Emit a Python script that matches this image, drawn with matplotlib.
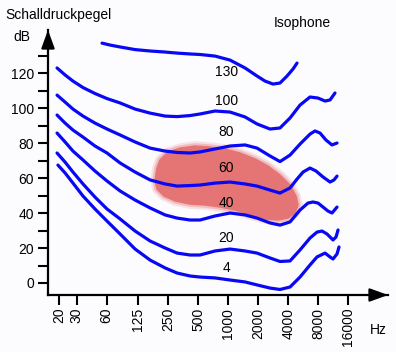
import matplotlib
matplotlib.use('Agg')
from matplotlib import pyplot as plt
from matplotlib.patches import Polygon

plt.rcParams['font.family'] = ['Liberation Sans', 'DejaVu Sans']

# frequency ticks (Hz)
freq_ticks = [20, 30, 60, 125, 250, 500, 1000, 2000, 4000, 8000, 16000]
db_ticks = list(range(0, 140, 10))
db_labels = [str(v) if v % 20 == 0 and v <= 120 else '' for v in db_ticks]

# isophones: frequency (Hz) / sound pressure level (dB)
f_130 = [54, 65, 82, 116, 164, 232, 306, 413, 520, 735, 1040, 1470, 1940, 2334,
         2808, 3300, 3880, 4457, 4890]
db_130 = [137.1, 136.0, 134.9, 133.4, 132.6, 132.0, 131.4, 130.9, 130.6, 129.7,
          127.4, 122.9, 118.3, 115.4, 113.7, 114.3, 118.3, 122.3, 125.7]

f_100 = [19.1, 23.0, 27.6, 34.8, 45.9, 60.6, 82, 116, 164, 232, 306, 413, 520, 735,
         1040, 1470, 1940, 2620, 3300, 4159, 5240, 6600, 7940, 9340, 10480, 11760]
db_100 = [122.9, 118.9, 115.4, 111.7, 108.3, 105.4, 102.9, 99.4, 97.1, 95.4, 95.1,
          95.7, 96.6, 98.3, 97.7, 94.9, 90.9, 88.0, 88.6, 94.3, 101.7, 106.3, 105.7,
          104.0, 104.6, 108.6]

f_80 = [19.1, 23.0, 27.6, 34.8, 45.9, 60.6, 82, 116, 164, 232, 306, 413, 520, 735,
        1040, 1470, 1940, 2620, 3300, 4159, 5240, 6600, 7410, 8320, 9550, 10970, 12320]
db_80 = [107.4, 103.4, 99.4, 95.4, 91.4, 88.0, 84.6, 80.6, 77.1, 75.4, 74.6, 74.3,
         74.9, 76.6, 78.3, 78.9, 77.1, 72.6, 69.4, 73.1, 79.4, 85.1, 86.9, 85.7, 81.7,
         78.9, 80.0]

f_60 = [19.1, 23.0, 27.6, 34.8, 45.9, 60.6, 82, 116, 164, 232, 306, 413, 520, 735,
        1040, 1470, 1940, 2620, 3300, 4159, 4890, 5616, 6600, 7580, 8914, 10480, 11490,
        12320]
db_60 = [96.0, 91.4, 87.4, 83.4, 78.3, 74.3, 68.6, 63.4, 58.9, 56.6, 55.4, 55.7, 56.0,
         57.1, 57.7, 56.6, 55.4, 53.1, 51.4, 54.3, 59.4, 63.4, 65.7, 64.0, 60.6, 57.7,
         58.9, 61.1]

f_40 = [19.1, 23.0, 27.6, 34.8, 45.9, 60.6, 82, 116, 164, 232, 306, 413, 520, 735,
        1040, 1470, 1940, 2620, 3300, 4159, 5240, 6300, 7076, 7940, 8914, 10010, 10970,
        12320]
db_40 = [85.7, 80.6, 75.4, 70.3, 64.0, 58.3, 52.6, 47.4, 42.9, 38.9, 37.1, 36.0, 36.0,
         38.3, 40.0, 38.9, 37.1, 34.3, 33.1, 34.9, 41.7, 45.7, 46.3, 45.7, 43.4, 41.1,
         40.0, 43.4]

f_20 = [19.1, 23.0, 27.6, 34.8, 45.9, 60.6, 82, 116, 164, 232, 306, 413, 520, 735,
        1040, 1470, 1940, 2620, 3300, 4159, 5240, 6600, 7760, 8710, 9778, 11230, 12040,
        12610]
db_20 = [74.3, 69.1, 63.4, 56.6, 49.1, 42.3, 36.6, 29.7, 24.0, 20.0, 17.1, 16.0, 16.0,
         18.3, 19.4, 18.3, 17.1, 14.3, 12.3, 12.6, 18.9, 25.7, 29.1, 29.7, 28.0, 24.6,
         26.3, 30.3]

f_4 = [19.5, 23.0, 27.6, 34.8, 45.9, 60.6, 82, 116, 164, 232, 306, 413, 520, 735,
       1040, 1470, 1940, 2620, 3300, 4159, 5240, 6600, 7760, 9340, 10480, 11230, 12320,
       12900]
db_4 = [67.4, 62.9, 57.1, 49.7, 42.3, 35.4, 28.0, 19.4, 13.1, 8.6, 5.7, 4.0, 3.4, 2.9,
        1.7, 0.6, -1.1, -2.9, -3.7, -2.3, 3.4, 10.3, 14.9, 17.1, 14.9, 13.7, 16.6, 20.6]

curves = [(f_130, db_130), (f_100, db_100), (f_80, db_80), (f_60, db_60),
          (f_40, db_40), (f_20, db_20), (f_4, db_4)]
phon_labels = ['130', '100', '80', '60', '40', '20', '4']
label_db = [120.6, 104.0, 86.3, 65.7, 45.7, 25.7, 8.6]
label_f = 958

# speech area outline (pink)
speech_f = [184, 192, 206, 248, 328, 463, 655, 926, 1310, 1852, 2502, 3300, 4159,
            4778, 5004, 4668, 3972, 3152, 2334, 1650, 1167, 825, 584, 413, 292, 226, 192]
speech_db = [58.9, 65.7, 70.3, 74.9, 77.1, 78.3, 77.7, 76.6, 74.3, 70.9, 66.9, 61.7,
             56.0, 49.7, 44.6, 40.0, 37.1, 36.0, 36.6, 38.9, 41.7, 43.4, 44.6, 45.1,
             46.9, 49.7, 53.7]

bg = '#fcfcff'
blue = '#0808f4'
pink = '#e57575'

fig = plt.figure(figsize=(3.96, 3.52), dpi=100, facecolor=bg)
ax = fig.add_axes([48 / 396, (352 - 295) / 352, (388 - 48) / 396, (295 - 30) / 352])
ax.set_facecolor(bg)
ax.set_xscale('log')
ax.set_xlim(15.5, 40000)
ax.set_ylim(-6.86, 144.6)

# soft edged blob
pts = list(zip(speech_f, speech_db))
for lw, a in [(7, 0.18), (4, 0.35)]:
    ax.add_patch(Polygon(pts, closed=True, facecolor='none', edgecolor=pink,
                         lw=lw, alpha=a, joinstyle='round', zorder=1))
ax.add_patch(Polygon(pts, closed=True, facecolor=pink, edgecolor=pink, lw=1,
                     joinstyle='round', zorder=1))

for fx, dbx in curves:
    ax.plot(fx, dbx, color=blue, lw=2.3, solid_joinstyle='round',
            solid_capstyle='round', zorder=2)

for txt, yv in zip(phon_labels, label_db):
    ax.text(label_f, yv, txt, ha='center', va='center', fontsize=10, zorder=3)

for s in ['top', 'right']:
    ax.spines[s].set_visible(False)
for s in ['left', 'bottom']:
    ax.spines[s].set_linewidth(1.6)

ax.set_xticks(freq_ticks)
ax.set_xticklabels([str(v) for v in freq_ticks], rotation=90, fontsize=10)
ax.xaxis.set_minor_locator(matplotlib.ticker.NullLocator())
ax.set_yticks(db_ticks)
ax.set_yticklabels(db_labels, fontsize=10)
ax.tick_params(direction='out', length=7.2, width=1.5, pad=3)
ax.tick_params(axis='x', pad=2)

head = '-|>,head_length=1.1,head_width=0.4'
ax.annotate('', xy=(1, 0), xytext=(0.95, 0), xycoords='axes fraction',
            arrowprops=dict(arrowstyle=head, color='black', lw=1.6,
                            shrinkA=0, shrinkB=0, mutation_scale=10),
            annotation_clip=False)
ax.annotate('', xy=(0, 1), xytext=(0, 0.95), xycoords='axes fraction',
            arrowprops=dict(arrowstyle=head, color='black', lw=1.6,
                            shrinkA=0, shrinkB=0, mutation_scale=10),
            annotation_clip=False)

fig.text(5 / 396, 1 - 15 / 352, 'Schalldruckpegel', ha='left', va='center', fontsize=10)
fig.text(13 / 396, 1 - 37 / 352, 'dB', ha='left', va='center', fontsize=10)
fig.text(274 / 396, 1 - 23 / 352, 'Isophone', ha='left', va='center', fontsize=10)
fig.text(378 / 396, 1 - 330 / 352, 'Hz', ha='center', va='center', fontsize=10)

fig.savefig('out.png', dpi=100, facecolor=bg)
